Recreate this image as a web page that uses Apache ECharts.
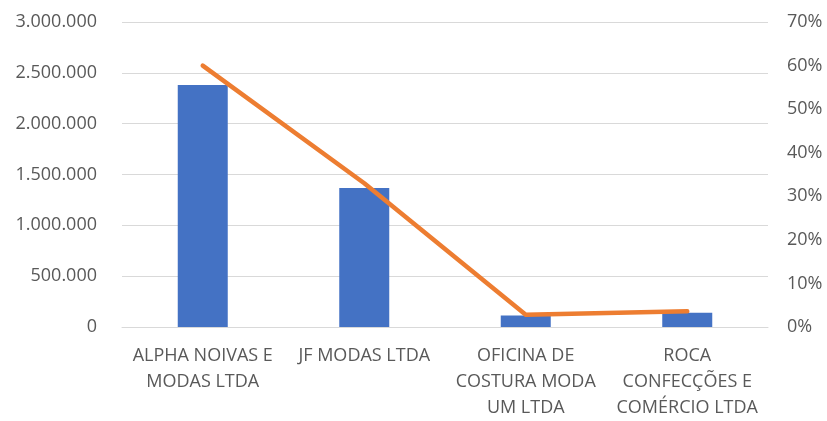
<!DOCTYPE html>
<html>
<head>
<meta charset="utf-8">
<script src="https://cdn.jsdelivr.net/npm/echarts@6/dist/echarts.min.js"></script>
<style>
html,body{margin:0;padding:0;background:#fff;overflow:hidden;}
#chart{width:827px;height:421px;}
</style>
</head>
<body>
<div id="chart"></div>
<script>
const categories = [
  'ALPHA NOIVAS E\nMODAS LTDA',
  'JF MODAS LTDA',
  'OFICINA DE\nCOSTURA MODA\nUM LTDA',
  'ROCA\nCONFECÇÕES E\nCOMÉRCIO LTDA'
];
const barValues = [2380000, 1368000, 112000, 141000];
const percentValues = [60, 33, 2.8, 3.6];

const textColor = '#595959';
const fontFamily = '"Open Sans", sans-serif';
const fontSize = 18;

function fmtThousands(v) {
  return String(Math.round(v)).replace(/\B(?=(\d{3})+(?!\d))/g, '.');
}

const chart = echarts.init(document.getElementById('chart'), null, {renderer: 'canvas', width: 827, height: 421});
chart.setOption({
  animation: false,
  backgroundColor: '#ffffff',
  grid: {left: 122, width: 646, top: 22, height: 313, containLabel: false},
  xAxis: {
    type: 'category',
    data: categories,
    axisLine: {show: true, lineStyle: {color: '#D9D9D9', width: 1}},
    axisTick: {show: false},
    axisLabel: {
      color: textColor, fontFamily: fontFamily, fontSize: fontSize,
      lineHeight: 26, margin: 16, interval: 0, align: 'center'
    }
  },
  yAxis: [
    {
      type: 'value', min: 0, max: 3000000, interval: 500000,
      axisLine: {show: false}, axisTick: {show: false},
      splitLine: {show: true, lineStyle: {color: '#D9D9D9', width: 1}},
      axisLabel: {
        color: textColor, fontFamily: fontFamily, fontSize: fontSize, margin: 25,
        formatter: fmtThousands
      }
    },
    {
      type: 'value', min: 0, max: 70, interval: 10,
      axisLine: {show: false}, axisTick: {show: false},
      splitLine: {show: false},
      axisLabel: {
        color: textColor, fontFamily: fontFamily, fontSize: fontSize, margin: 19,
        formatter: '{value}%'
      }
    }
  ],
  series: [
    {
      type: 'bar', yAxisIndex: 0, data: barValues, barWidth: 50,
      itemStyle: {color: '#4472C4'}
    },
    {
      type: 'line', yAxisIndex: 1, data: percentValues,
      symbol: 'none', z: 5,
      lineStyle: {color: '#ED7D31', width: 4.5, cap: 'round', join: 'round'}
    }
  ]
});
</script>
</body>
</html>
